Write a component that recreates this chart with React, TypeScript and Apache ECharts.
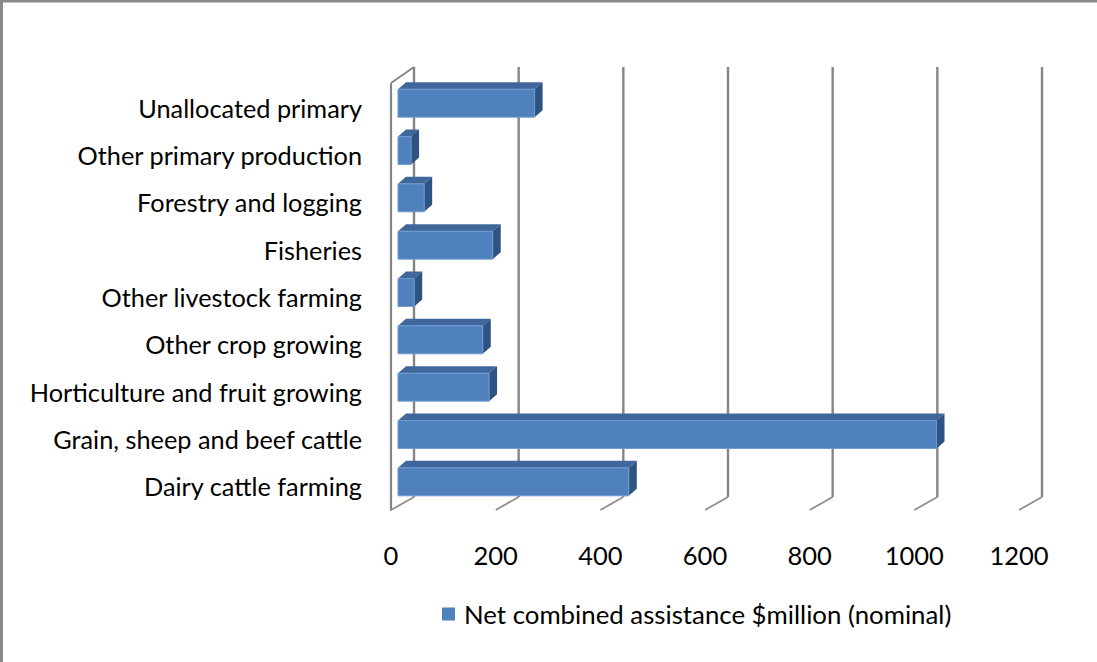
import React, { useEffect, useRef } from "react";
import * as echarts from "echarts";

const categories = [
  "Dairy cattle farming",
  "Grain, sheep and beef cattle",
  "Horticulture and fruit growing",
  "Other crop growing",
  "Other livestock farming",
  "Fisheries",
  "Forestry and logging",
  "Other primary production",
  "Unallocated primary",
];
const values = [441, 1029, 174, 162, 31, 181, 50, 25, 261];
const xTicks = [0, 200, 400, 600, 800, 1000, 1200];
const seriesName = "Net combined assistance $million (nominal)";

const FONT = "Lato";
const GRID_COLOR = "#858585";
const FRONT = "#4F81BD";
const TOP = "#3F679B";
const SIDE = "#2E5281";

export default function App() {
  const ref = useRef<HTMLDivElement>(null);
  useEffect(() => {
    if (!ref.current) return;
    const chart = echarts.init(ref.current, null, { renderer: "svg" });
    const wallDx = 23;
    const option: any = {
      animation: false,
      backgroundColor: "#fff",
      textStyle: { fontFamily: FONT },
      graphic: [
        {
          type: "rect",
          shape: { x: 1.5, y: 1, width: 1300, height: 900 },
          style: { fill: "none", stroke: "#8a8a8a", lineWidth: 3 },
          silent: true,
        },
      ],
      grid: { left: 391, top: 84, width: 628, height: 426, containLabel: false },
      xAxis: {
        type: "value",
        min: 0,
        max: 1200,
        interval: 200,
        axisLine: { show: false },
        axisTick: { show: false },
        splitLine: { show: false },
        axisLabel: {
          fontSize: 25.5,
          color: "#000",
          fontFamily: FONT,
          margin: 32,
          formatter: (v: number) => String(v),
        },
      },
      yAxis: {
        type: "category",
        data: categories,
        axisLine: { show: true, lineStyle: { color: GRID_COLOR, width: 2.2 } },
        axisTick: { show: false },
        splitLine: { show: false },
        axisLabel: { fontSize: 25.3, color: "#000", fontFamily: FONT, margin: 29 },
      },
      legend: {
        data: [{ name: seriesName, icon: "rect" }],
        left: 437,
        top: 596,
        itemWidth: 13,
        itemHeight: 13,
        textStyle: { fontSize: 25.8, color: "#000", fontFamily: FONT, padding: [0, 0, 0, 4] },
      },
      series: [
        {
          name: "walls",
          type: "custom",
          clip: false,
          silent: true,
          z: 1,
          data: xTicks.map((v) => [v, 0]),
          encode: { x: 0, y: 1 },
          renderItem: (params: any, api: any) => {
            const v = api.value(0);
            const xf = api.coord([v, 0])[0];
            const cs = params.coordSys;
            const top = cs.y;
            const bottom = cs.y + cs.height;
            const children: any[] = [
              {
                type: "line",
                shape: { x1: xf + wallDx, y1: top - 17, x2: xf + wallDx, y2: bottom - 13 },
                style: { stroke: GRID_COLOR, lineWidth: 2.4 },
              },
              {
                type: "line",
                shape: { x1: xf, y1: bottom, x2: xf + wallDx, y2: bottom - 13 },
                style: { stroke: "#8e8e8e", lineWidth: 1.8 },
              },
            ];
            if (v === 0) {
              children.push({
                type: "line",
                shape: { x1: xf, y1: top - 1, x2: xf + wallDx, y2: top - 17 },
                style: { stroke: GRID_COLOR, lineWidth: 2 },
              });
            }
            return { type: "group", children };
          },
        },
        {
          name: seriesName,
          type: "custom",
          clip: false,
          z: 3,
          itemStyle: { color: FRONT },
          data: values.map((v, i) => [v, i]),
          encode: { x: 0, y: 1 },
          renderItem: (_params: any, api: any) => {
            const v = api.value(0);
            const i = api.value(1);
            const p0 = api.coord([0, i]);
            const p1 = api.coord([v, i]);
            const band = api.size([0, 1])[1];
            const h = band * 0.59;
            const sx = 7;
            const sy = -4.5;
            const dx = 8;
            const dy = -7;
            const x0 = p0[0] + sx;
            const x1 = p1[0] + sx;
            const yc = p0[1] + sy;
            const yt = yc - h / 2;
            const yb = yc + h / 2;
            return {
              type: "group",
              children: [
                {
                  type: "polygon",
                  shape: { points: [[x0, yt], [x0 + dx, yt + dy], [x1 + dx, yt + dy], [x1, yt]] },
                  style: { fill: TOP },
                },
                {
                  type: "polygon",
                  shape: { points: [[x1, yt], [x1 + dx, yt + dy], [x1 + dx, yb + dy], [x1, yb]] },
                  style: { fill: SIDE },
                },
                {
                  type: "rect",
                  shape: { x: x0, y: yt, width: x1 - x0, height: h },
                  style: { fill: FRONT, stroke: "#6F9AD0", lineWidth: 1 },
                },
              ],
            };
          },
        },
      ],
    };
    chart.setOption(option);
    return () => chart.dispose();
  }, []);
  return (
    <div
      ref={ref}
      style={{ position: "fixed", left: 0, top: 0, width: 1097, height: 662, background: "#fff" }}
    />
  );
}
